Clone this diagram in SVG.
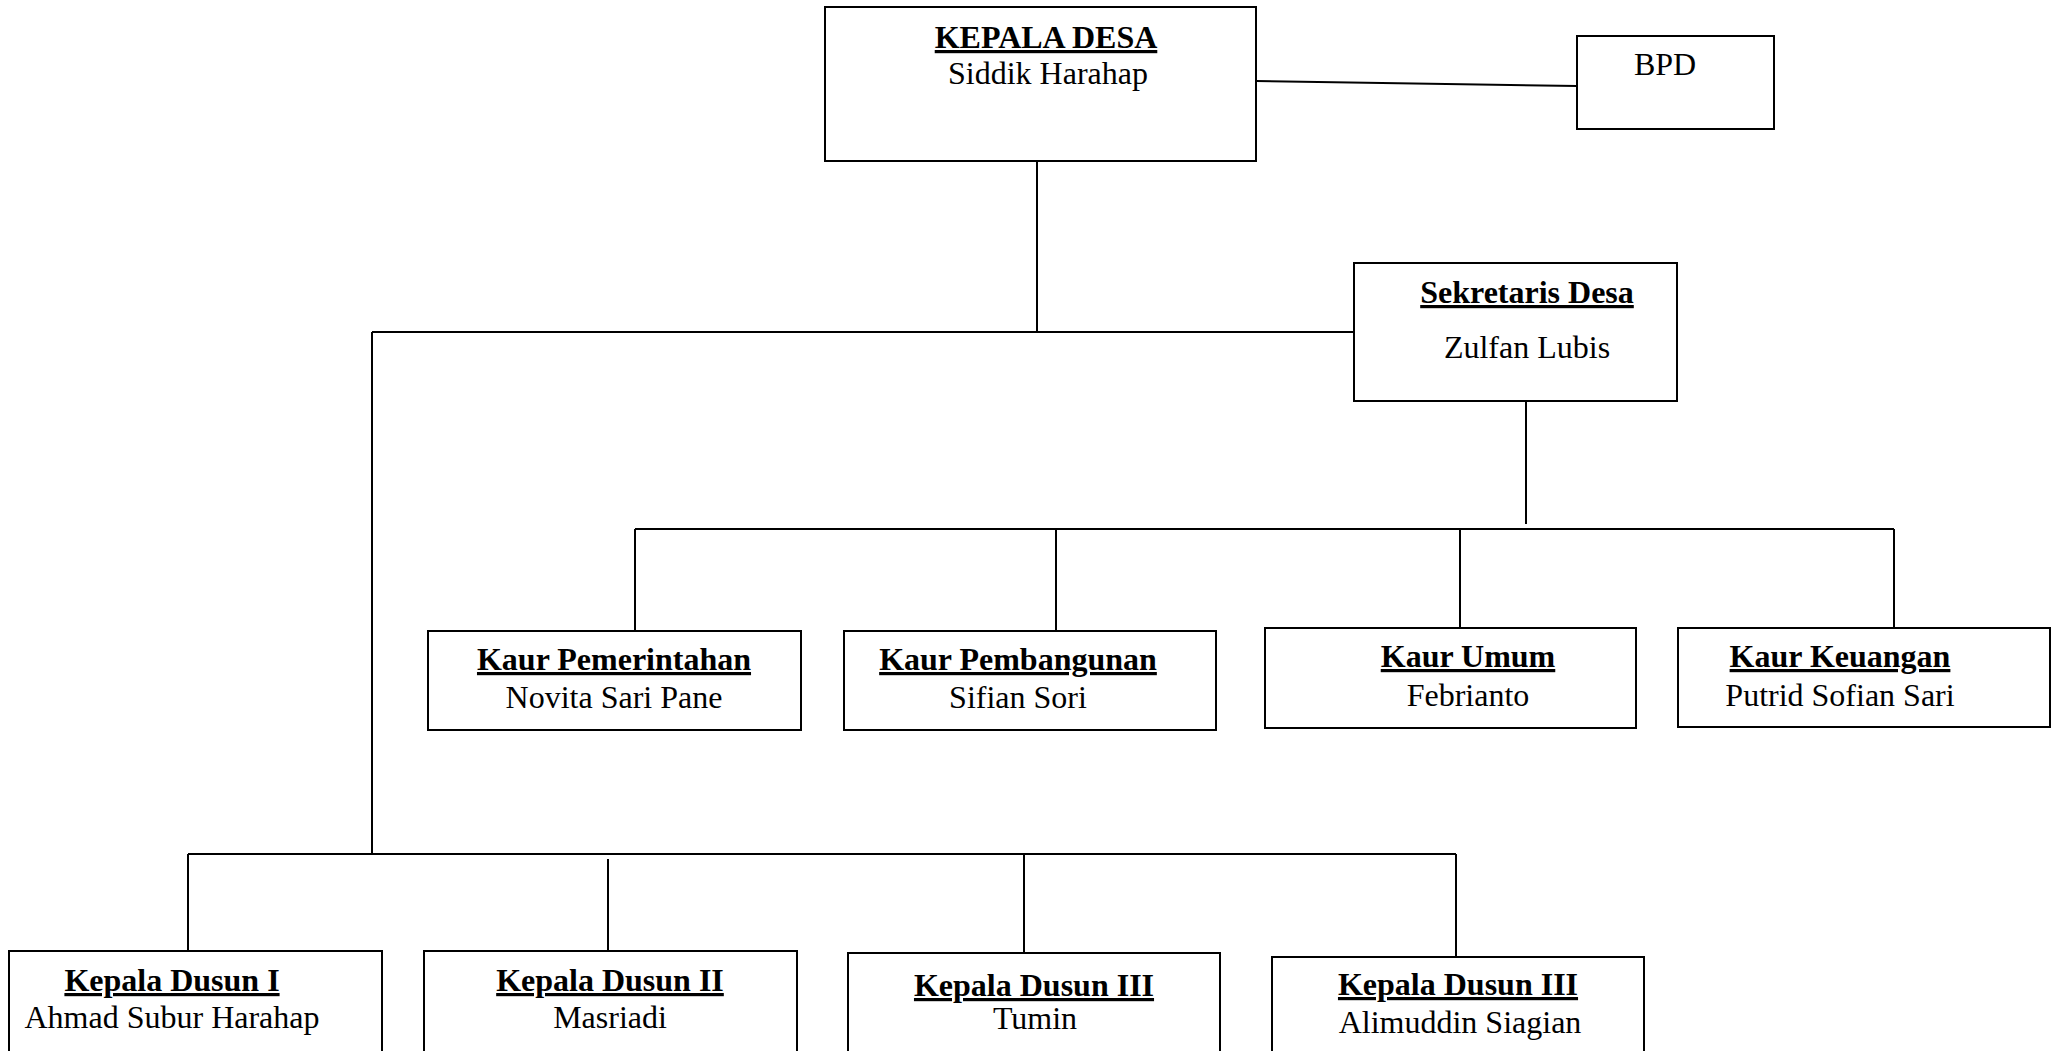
<svg xmlns="http://www.w3.org/2000/svg" width="2059" height="1051" viewBox="0 0 2059 1051">
<style>
.box{fill:#fff;stroke:#000;stroke-width:2}
.ln{stroke:#000;stroke-width:2;fill:none}
text{font-family:"Liberation Serif","Times New Roman",serif;font-size:32px;fill:#000;text-anchor:middle}
.t{font-weight:bold;text-decoration:underline}
</style>
<rect width="2059" height="1051" fill="#fff"/>
<g id="connectors">
<line class="ln" x1="1256" y1="81" x2="1577" y2="86"/>
<line class="ln" x1="1037" y1="161" x2="1037" y2="332"/>
<line class="ln" x1="372" y1="332" x2="1354" y2="332"/>
<line class="ln" x1="372" y1="332" x2="372" y2="854"/>
<line class="ln" x1="1526" y1="401" x2="1526" y2="524"/>
<line class="ln" x1="635" y1="529" x2="1894" y2="529"/>
<line class="ln" x1="635" y1="529" x2="635" y2="631"/>
<line class="ln" x1="1056" y1="529" x2="1056" y2="631"/>
<line class="ln" x1="1460" y1="529" x2="1460" y2="628"/>
<line class="ln" x1="1894" y1="529" x2="1894" y2="628"/>
<line class="ln" x1="188" y1="854" x2="1456" y2="854"/>
<line class="ln" x1="188" y1="854" x2="188" y2="951"/>
<line class="ln" x1="608" y1="859" x2="608" y2="951"/>
<line class="ln" x1="1024" y1="854" x2="1024" y2="953"/>
<line class="ln" x1="1456" y1="854" x2="1456" y2="957"/>
</g>
<g id="kepala-desa">
<rect class="box" x="825" y="7" width="431" height="154"/>
<text class="t" x="1046" y="48">KEPALA DESA</text>
<text x="1048" y="84">Siddik Harahap</text>
</g>
<g id="bpd">
<rect class="box" x="1577" y="36" width="197" height="93"/>
<text x="1665" y="75">BPD</text>
</g>
<g id="sekretaris-desa">
<rect class="box" x="1354" y="263" width="323" height="138"/>
<text class="t" x="1527" y="303">Sekretaris Desa</text>
<text x="1527" y="358">Zulfan Lubis</text>
</g>
<g id="kaur-pemerintahan">
<rect class="box" x="428" y="631" width="373" height="99"/>
<text class="t" x="614" y="670">Kaur Pemerintahan</text>
<text x="614" y="708">Novita Sari Pane</text>
</g>
<g id="kaur-pembangunan">
<rect class="box" x="844" y="631" width="372" height="99"/>
<text class="t" x="1018" y="670">Kaur Pembangunan</text>
<text x="1018" y="708">Sifian Sori</text>
</g>
<g id="kaur-umum">
<rect class="box" x="1265" y="628" width="371" height="100"/>
<text class="t" x="1468" y="667">Kaur Umum</text>
<text x="1468" y="706">Febrianto</text>
</g>
<g id="kaur-keuangan">
<rect class="box" x="1678" y="628" width="372" height="99"/>
<text class="t" x="1840" y="667">Kaur Keuangan</text>
<text x="1840" y="706">Putrid Sofian Sari</text>
</g>
<g id="kepala-dusun-1">
<rect class="box" x="9" y="951" width="373" height="120"/>
<text class="t" x="172" y="991">Kepala Dusun I</text>
<text x="172" y="1028">Ahmad Subur Harahap</text>
</g>
<g id="kepala-dusun-2">
<rect class="box" x="424" y="951" width="373" height="120"/>
<text class="t" x="610" y="991">Kepala Dusun II</text>
<text x="610" y="1028">Masriadi</text>
</g>
<g id="kepala-dusun-3">
<rect class="box" x="848" y="953" width="372" height="120"/>
<text class="t" x="1034" y="996">Kepala Dusun III</text>
<text x="1035" y="1029">Tumin</text>
</g>
<g id="kepala-dusun-3b">
<rect class="box" x="1272" y="957" width="372" height="120"/>
<text class="t" x="1458" y="995">Kepala Dusun III</text>
<text x="1460" y="1033">Alimuddin Siagian</text>
</g>
</svg>
